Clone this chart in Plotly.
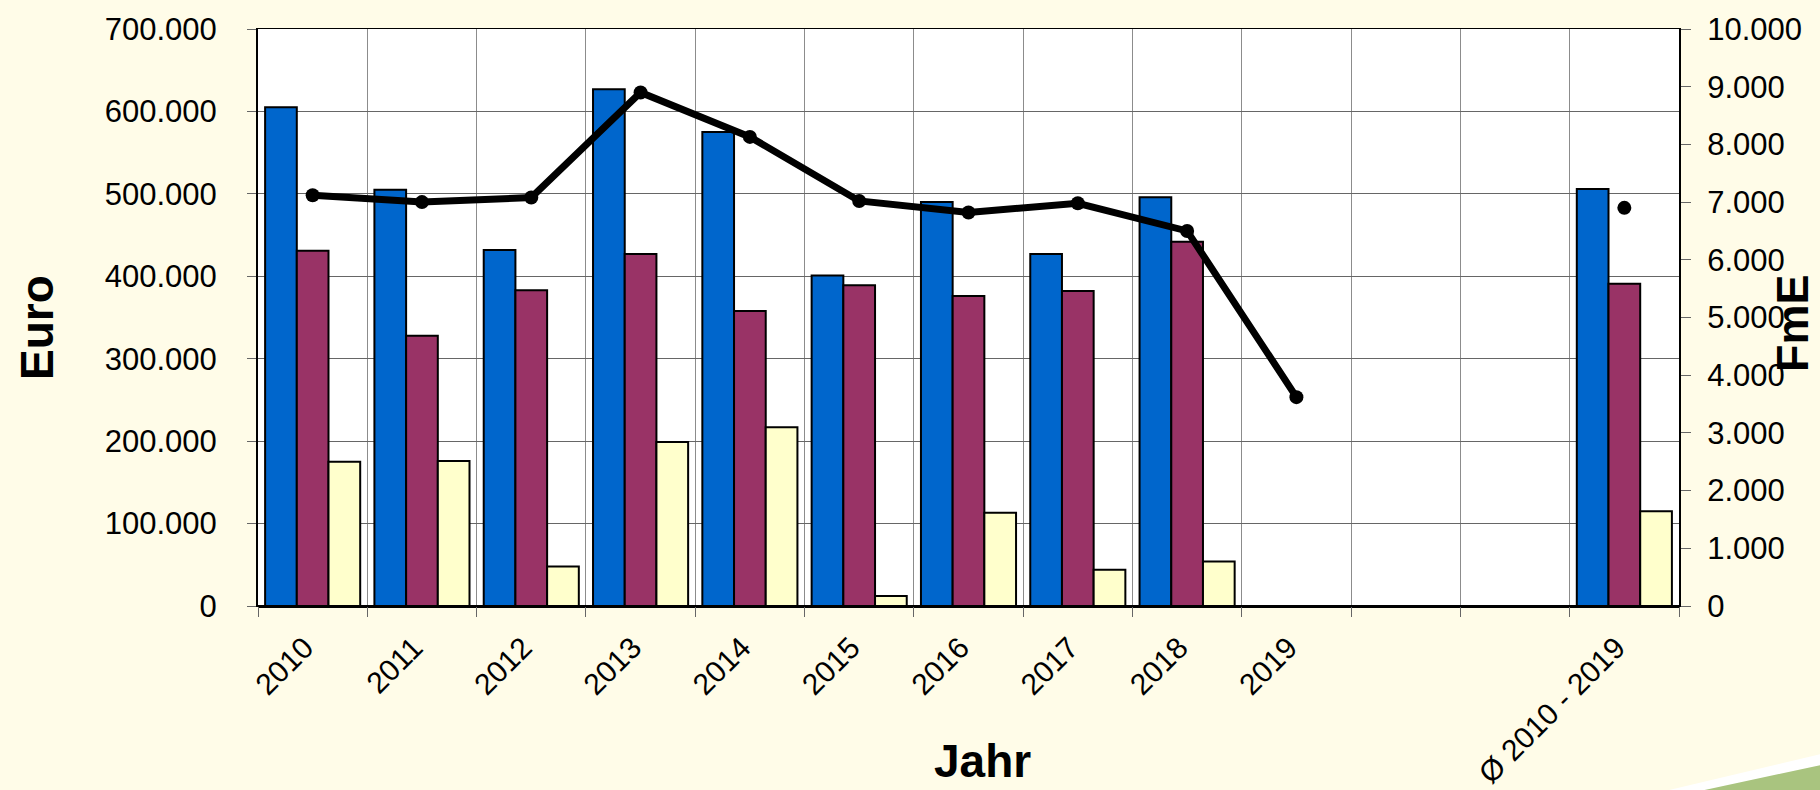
import plotly.graph_objects as go

categories = ["2010", "2011", "2012", "2013", "2014", "2015", "2016", "2017",
              "2018", "2019", " ", "  ", "Ø 2010 - 2019"]
blue_values = [605000, 505000, 432000, 627000, 575000, 401000, 490000, 427000,
               496000, None, None, None, 506000]
maroon_values = [431000, 328000, 383000, 427000, 358000, 389000, 376000, 382000,
                 442000, None, None, None, 391000]
yellow_values = [175000, 176000, 48000, 199000, 217000, 12000, 113000, 44000,
                 54000, None, None, None, 115000]
fme_values = [7120, 7000, 7080, 8900, 8130, 7020, 6820, 6980, 6500, 3620,
              None, None, 6900]
euro_ticks = list(range(0, 700001, 100000))
fme_ticks = list(range(0, 10001, 1000))

W, H = 1820, 790
L, R, T, B = 258, 1679, 29, 606


def px(x):
    return (x - L) / (R - L)


def py(y):
    return (B - y) / (B - T)


FONT = "Arial, Liberation Sans, sans-serif"

fig = go.Figure()
for vals, col in [(blue_values, "#0066CC"), (maroon_values, "#993366"),
                  (yellow_values, "#FFFFCC")]:
    fig.add_trace(go.Bar(x=categories, y=vals, marker=dict(color=col,
                  line=dict(color="black", width=2)), showlegend=False))

fig.add_trace(go.Scatter(x=categories, y=fme_values, yaxis="y2", mode="lines+markers",
                         line=dict(color="black", width=7),
                         marker=dict(color="black", size=14),
                         connectgaps=False, showlegend=False))

fig.update_layout(
    width=W, height=H,
    margin=dict(l=L, r=W - R, t=T, b=H - B, pad=0),
    paper_bgcolor="#FFFCE8", plot_bgcolor="white",
    barmode="group", bargap=0.13, bargroupgap=0,
    separators=",.",
    font=dict(family=FONT, size=30, color="black"),
    xaxis=dict(type="category", categoryorder="array", categoryarray=categories,
               range=[-0.5, len(categories) - 0.5],
               automargin=False,
               tickson="boundaries", ticks="outside", ticklen=10, tickcolor="#666",
               showgrid=True, gridcolor="#8c8c8c", gridwidth=1,
               showline=True, linecolor="black", linewidth=1, mirror=True,
               tickangle=-45, ticklabelstandoff=11, ticklabelshift=-8,
               tickfont=dict(size=30, family=FONT)),
    yaxis=dict(range=[0, 700000], tickvals=euro_ticks, tickformat=",d",
               automargin=False,
               ticks="outside", ticklen=9, tickcolor="#666",
               showgrid=True, gridcolor="#666", gridwidth=1,
               showline=True, linecolor="black", linewidth=2,
               zeroline=True, zerolinecolor="black", zerolinewidth=2.5,
               ticklabelstandoff=24, tickfont=dict(size=31, family=FONT)),
    yaxis2=dict(range=[0, 10000], tickvals=fme_ticks, tickformat=",d",
                automargin=False,
                overlaying="y", side="right", showgrid=False, zeroline=False,
                ticks="outside", ticklen=10, tickcolor="#666",
                showline=True, linecolor="black", linewidth=2,
                ticklabelstandoff=10, tickfont=dict(size=31, family=FONT)),
    annotations=[
        dict(text="<b>Euro</b>", x=px(37), y=py(328), xref="paper", yref="paper",
             showarrow=False, textangle=-90, font=dict(size=46, family=FONT),
             xanchor="center", yanchor="middle"),
        dict(text="<b>Jahr</b>", x=px(982), y=py(761), xref="paper", yref="paper",
             showarrow=False, font=dict(size=46, family=FONT),
             xanchor="center", yanchor="middle"),
        dict(text="<b>FmE</b>", x=px(1793), y=py(323), xref="paper", yref="paper",
             showarrow=False, textangle=-90, font=dict(size=45, family=FONT),
             xanchor="center", yanchor="middle"),
    ],
    shapes=[
        dict(type="path", xref="paper", yref="paper", layer="below", line=dict(width=0),
             fillcolor="white",
             path=f"M {px(1665)},{py(791)} L {px(1821)},{py(754)} L {px(1821)},{py(791)} Z"),
        dict(type="path", xref="paper", yref="paper", layer="below", line=dict(width=0),
             fillcolor="#A9C47F",
             path=f"M {px(1700)},{py(791)} L {px(1821)},{py(765)} L {px(1821)},{py(791)} Z"),
    ],
)

fig.write_html("out.html", config={"displayModeBar": False},
               post_script="document.body.style.margin='0';document.body.style.overflow='hidden';")
